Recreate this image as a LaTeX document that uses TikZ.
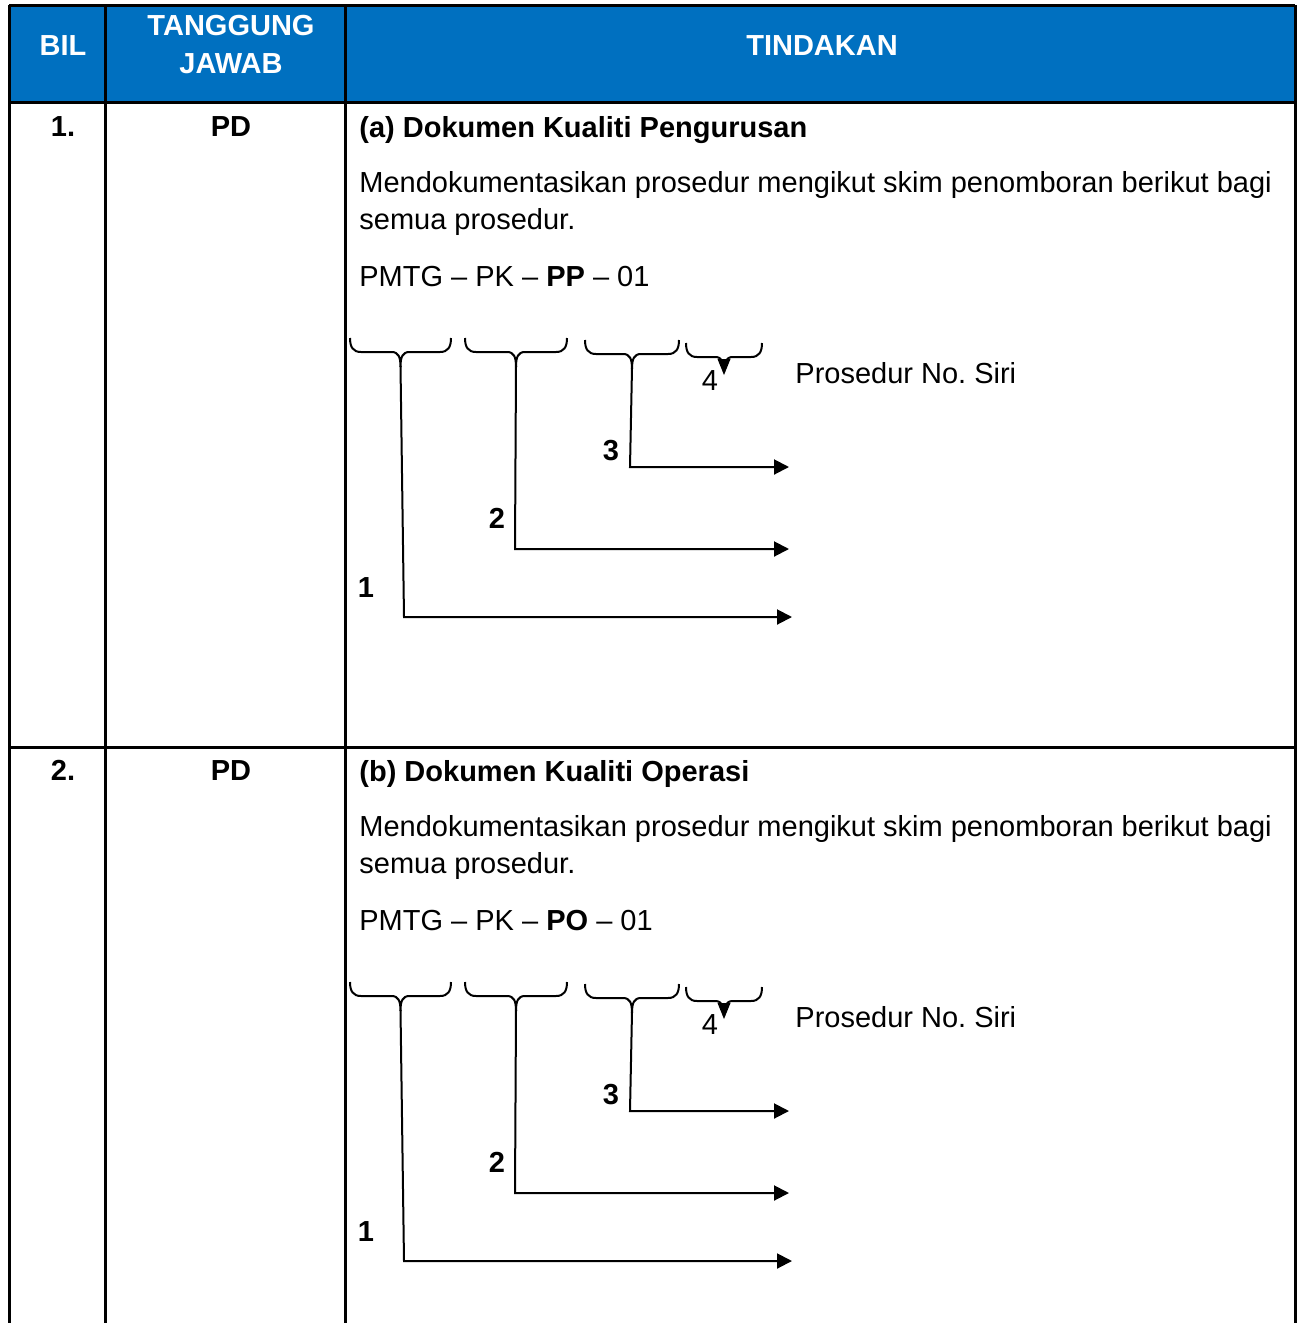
\documentclass[tikz,border=0pt]{standalone}
\usepackage{fontspec}
\setmainfont{Liberation Sans}
\frenchspacing
\usetikzlibrary{arrows.meta}
\definecolor{headblue}{HTML}{0070C0}

\begin{document}
\begin{tikzpicture}[x = 0.5pt, y = -0.5pt, font = \fontsize{14.5}{17}\selectfont]
	% Fix the page size
	\useasboundingbox (0, 0) rectangle (1297, 1323);

	% Styles for the table and the numbering scheme
	\tikzset{
		grid line/.style = {line width = 1.5pt},
		bold text/.style = {font = \fontsize{14.5}{17}\selectfont\bfseries},
		head text/.style = {bold text, text = white, inner sep = 0, anchor = base},
		cell text/.style = {inner sep = 0, anchor = base west},
		mid text/.style = {inner sep = 0, anchor = base},
		scheme arrow/.style = {-{Triangle[length = 7.5pt, width = 7.5pt]}, line width = 1pt},
		brace width/.store in = \bracew,
		brace width = 100,
		% Curly brace opening downwards, drawn from its left end
		word brace/.pic = {
			\draw[line width = 1pt] (0, 0) .. controls (0, 9) and (3, 14) .. (11, 14)
				-- ({\bracew/2 - 9}, 14) .. controls ({\bracew/2 - 2}, 14) and ({\bracew/2}, 19) .. ({\bracew/2}, 29)
				.. controls ({\bracew/2}, 19) and ({\bracew/2 + 2}, 14) .. ({\bracew/2 + 9}, 14)
				-- ({\bracew - 11}, 14) .. controls ({\bracew - 3}, 14) and (\bracew, 9) .. (\bracew, 0);
		}
	}

	% Draw the header background
	\fill[headblue] (9, 5) rectangle (1295, 102);

	% Draw the header labels
	\node[head text] (bil) at (63, 55) {BIL};
	\node[head text] (tj1) at (231, 35) {TANGGUNG};
	\node[head text] (tj2) at (231, 73) {JAWAB};
	\node[head text] (tindakan) at (822, 55) {TINDAKAN};

	% Draw the grid lines
	\draw[grid line] (9, 5) -- (1295, 5);
	\draw[grid line] (9, 102) -- (1295, 102);
	\draw[grid line] (9, 747) -- (1295, 747);
	\foreach \gx in {9, 105, 345, 1295}
		\draw[grid line] (\gx, 5) -- (\gx, 1323);

	% Draw the two rows, the second one 644 lower
	\foreach \row/\dy/\lbl/\ttl/\abbr in {1/0/a/Pengurusan/PP, 2/644/b/Operasi/PO} {
		\begin{scope}[shift = {(0, \dy)}]
			% Row texts
			\node[mid text, bold text] (bil\row) at (63, 136) {\row.};
			\node[mid text, bold text] (tj\row) at (231, 136) {PD};
			\node[cell text, bold text] (title\row) at (359, 137) {(\lbl) Dokumen Kualiti \ttl};
			\node[cell text] (body\row) at (359, 192) {Mendokumentasikan prosedur mengikut skim penomboran berikut bagi};
			\node[cell text] (bodyb\row) at (359, 229) {semua prosedur.};
			\node[cell text] (scheme\row) at (359, 286) {PMTG – PK – \textbf{\abbr} – 01};

			% Braces under the code
			\coordinate (bra\row) at (350, 338);
			\coordinate (brb\row) at (465, 338);
			\coordinate (brc\row) at (585, 340);
			\coordinate (brd\row) at (686, 343);
			\pic[brace width = 101] at (bra\row) {word brace};
			\pic[brace width = 102] at (brb\row) {word brace};
			\pic[brace width = 94] at (brc\row) {word brace};
			\pic[brace width = 76] at (brd\row) {word brace};

			% Small arrowhead under the fourth brace
			\coordinate (tip4\row) at (724, 375);
			\fill (tip4\row) -- ++(-6.5, -16) -- ++(13, 0) -- cycle;
			\node[mid text] (four\row) at (710, 390) {4};
			\node[cell text] (siri\row) at (795, 383) {Prosedur No. Siri};

			% Arrowed lines from the brace tips
			\coordinate (tip1\row) at (400.5, 366);
			\coordinate (bend1\row) at (404, 617);
			\coordinate (end1\row) at (792, 617);
			\coordinate (tip2\row) at (516, 366);
			\coordinate (bend2\row) at (515, 549);
			\coordinate (end2\row) at (789, 549);
			\coordinate (tip3\row) at (632, 368);
			\coordinate (bend3\row) at (630, 467);
			\coordinate (end3\row) at (789, 467);
			\draw[scheme arrow] (tip1\row) -- (bend1\row) -- (end1\row);
			\draw[scheme arrow] (tip2\row) -- (bend2\row) -- (end2\row);
			\draw[scheme arrow] (tip3\row) -- (bend3\row) -- (end3\row);

			% Labels of the parts
			\node[mid text, bold text] (one\row) at (366, 597) {1};
			\node[mid text, bold text] (two\row) at (497, 528) {2};
			\node[mid text, bold text] (three\row) at (611, 460) {3};
		\end{scope}
	}

\end{tikzpicture}
\end{document}
